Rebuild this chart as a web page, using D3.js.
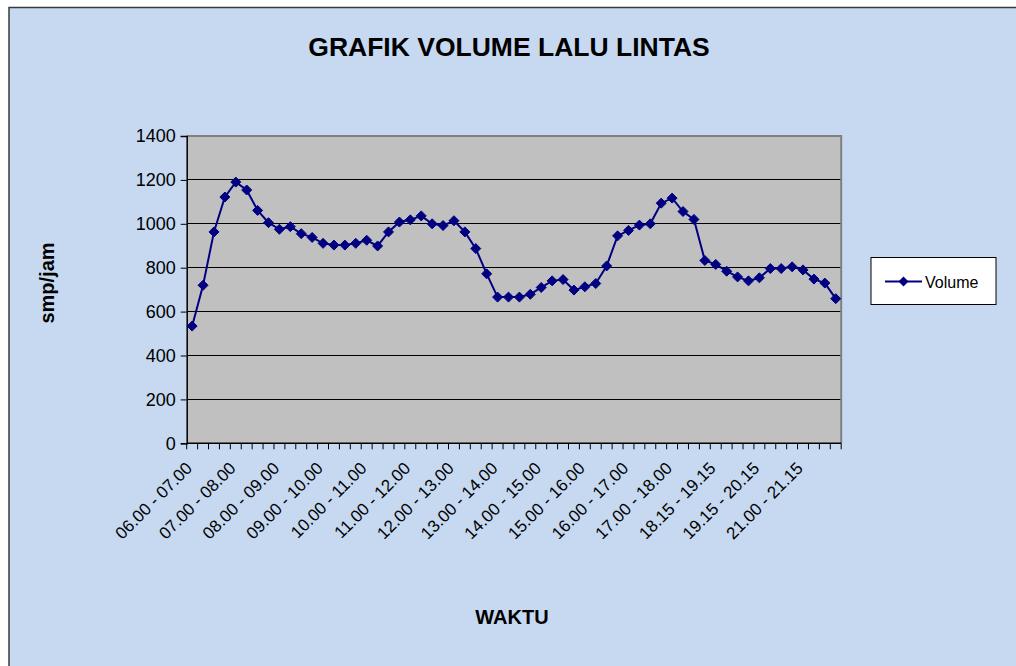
<!DOCTYPE html>
<html>
<head>
<meta charset="utf-8">
<script src="https://cdn.jsdelivr.net/npm/d3@7"></script>
<style>
  html, body { margin: 0; padding: 0; background: #ffffff; }
  svg { display: block; font-family: "Liberation Sans", Arial, sans-serif; }
</style>
</head>
<body>
<svg id="chart" width="1016" height="666"></svg>
<script>
const categories = [
  "06.00 - 07.00","06.15 - 07.15","06.30 - 07.30","06.45 - 07.45",
  "07.00 - 08.00","07.15 - 08.15","07.30 - 08.30","07.45 - 08.45",
  "08.00 - 09.00","08.15 - 09.15","08.30 - 09.30","08.45 - 09.45",
  "09.00 - 10.00","09.15 - 10.15","09.30 - 10.30","09.45 - 10.45",
  "10.00 - 11.00","10.15 - 11.15","10.30 - 11.30","10.45 - 11.45",
  "11.00 - 12.00","11.15 - 12.15","11.30 - 12.30","11.45 - 12.45",
  "12.00 - 13.00","12.15 - 13.15","12.30 - 13.30","12.45 - 13.45",
  "13.00 - 14.00","13.15 - 14.15","13.30 - 14.30","13.45 - 14.45",
  "14.00 - 15.00","14.15 - 15.15","14.30 - 15.30","14.45 - 15.45",
  "15.00 - 16.00","15.15 - 16.15","15.30 - 16.30","15.45 - 16.45",
  "16.00 - 17.00","16.15 - 17.15","16.30 - 17.30","16.45 - 17.45",
  "17.00 - 18.00","17.15 - 18.15","17.30 - 18.30","18.00 - 19.00",
  "18.15 - 19.15","18.30 - 19.30","18.45 - 19.45","19.00 - 20.00",
  "19.15 - 20.15","19.30 - 20.30","19.45 - 20.45","20.00 - 21.00",
  "21.00 - 21.15","21.15 - 22.15","21.30 - 22.30","21.45 - 22.45"
];
const volume = [
  534,720,963,1122,1190,1154,1061,1005,975,987,
  955,938,911,903,903,911,925,899,963,1008,
  1018,1036,1000,992,1014,963,887,772,666,666,
  666,679,710,740,746,698,713,728,808,945,
  970,994,1000,1094,1117,1056,1020,833,815,784,
  758,740,754,796,796,804,790,748,730,659
];
const yTicks = [0,200,400,600,800,1000,1200,1400];
const labelEvery = 4;
const seriesName = "Volume";
const titleText = "GRAFIK VOLUME LALU LINTAS";
const xTitle = "WAKTU";
const yTitle = "smp/jam";

const svg = d3.select("#chart");
const W = 1016, H = 666;
const plot = {left: 186.7, right: 841.2, top: 136, bottom: 443.3};
const navy = "#000080";

// chart area
svg.append("rect").attr("x", 9).attr("y", 7.5).attr("width", W + 20).attr("height", H + 20)
  .attr("fill", "#c6d9f0").attr("stroke", "#3a3a3a").attr("stroke-width", 1.5);

const x = d3.scaleBand().domain(categories).range([plot.left, plot.right]).padding(0);
const y = d3.scaleLinear().domain([0, 1400]).range([plot.bottom, plot.top]);

// plot area
svg.append("rect").attr("x", plot.left).attr("y", plot.top)
  .attr("width", plot.right - plot.left).attr("height", plot.bottom - plot.top)
  .attr("fill", "#c0c0c0");

// gridlines
svg.append("g").selectAll("line").data(yTicks.filter(d => d > 0 && d < 1400)).join("line")
  .attr("x1", plot.left).attr("x2", plot.right)
  .attr("y1", d => y(d)).attr("y2", d => y(d))
  .attr("stroke", "#000").attr("stroke-width", 1).attr("shape-rendering", "crispEdges");

// plot border top/right
svg.append("path")
  .attr("d", `M${plot.left},${plot.top}H${plot.right}V${plot.bottom}`)
  .attr("fill", "none").attr("stroke", "#808080").attr("stroke-width", 2);

// y axis
const yAxis = svg.append("g").attr("transform", `translate(${plot.left},0)`)
  .call(d3.axisLeft(y).tickValues(yTicks).tickSize(6).tickPadding(5).tickFormat(d3.format("d")));
yAxis.select(".domain").attr("stroke", "#000").attr("stroke-width", 1.5);
yAxis.selectAll(".tick line").attr("stroke", "#000");
yAxis.selectAll("text").attr("font-size", 18).attr("fill", "#000")
  .attr("font-family", "Liberation Sans, Arial, sans-serif");

// x axis baseline and ticks at category boundaries
const xg = svg.append("g");
xg.append("line").attr("x1", plot.left).attr("x2", plot.right)
  .attr("y1", plot.bottom).attr("y2", plot.bottom).attr("stroke", "#000").attr("stroke-width", 1.5);
const bounds = categories.map(c => x(c)).concat([x(categories[categories.length - 1]) + x.bandwidth()]);
xg.selectAll("line.tk").data(bounds).join("line").attr("class", "tk")
  .attr("x1", d => d).attr("x2", d => d)
  .attr("y1", plot.bottom).attr("y2", plot.bottom + 6)
  .attr("stroke", "#000").attr("stroke-width", 1);

// x labels
xg.selectAll("text").data(categories.filter((c, i) => i % labelEvery === 0)).join("text")
  .attr("transform", d => `translate(${x(d) + x.bandwidth() / 2 + 1},${plot.bottom + 26}) rotate(-45)`)
  .attr("text-anchor", "end")
  .attr("font-size", 17)
  .attr("fill", "#000")
  .text(d => d);

// line
const cx = (d, i) => x(categories[i]) + x.bandwidth() / 2;
const line = d3.line().x((d, i) => cx(d, i)).y(d => y(d));
svg.append("path").datum(volume).attr("d", line)
  .attr("fill", "none").attr("stroke", navy).attr("stroke-width", 2);

const diamond = "M0,-5L5,0L0,5L-5,0Z";
svg.append("g").selectAll("path").data(volume).join("path")
  .attr("d", diamond)
  .attr("transform", (d, i) => `translate(${cx(d, i)},${y(d)})`)
  .attr("fill", navy).attr("stroke", navy).attr("stroke-width", 1);

// title
svg.append("text").attr("x", 509).attr("y", 55.5).attr("text-anchor", "middle")
  .attr("font-size", 26.5).attr("font-weight", "bold").attr("fill", "#000").text(titleText);

// axis titles
svg.append("text").attr("x", 512).attr("y", 624).attr("text-anchor", "middle")
  .attr("font-size", 20).attr("font-weight", "bold").attr("fill", "#000").text(xTitle);
svg.append("text").attr("transform", "translate(54,283) rotate(-90)").attr("text-anchor", "middle")
  .attr("font-size", 20).attr("font-weight", "bold").attr("fill", "#000").text(yTitle);

// legend
const lg = svg.append("g");
lg.append("rect").attr("x", 871).attr("y", 257.5).attr("width", 125).attr("height", 47)
  .attr("fill", "#fff").attr("stroke", "#000").attr("stroke-width", 1);
lg.append("line").attr("x1", 885).attr("x2", 922).attr("y1", 281.5).attr("y2", 281.5)
  .attr("stroke", navy).attr("stroke-width", 2);
lg.append("path").attr("d", diamond).attr("transform", "translate(903.5,281.5)").attr("fill", navy);
lg.append("text").attr("x", 925).attr("y", 287.5).attr("font-size", 16).attr("fill", "#000").text(seriesName);
</script>
</body>
</html>
